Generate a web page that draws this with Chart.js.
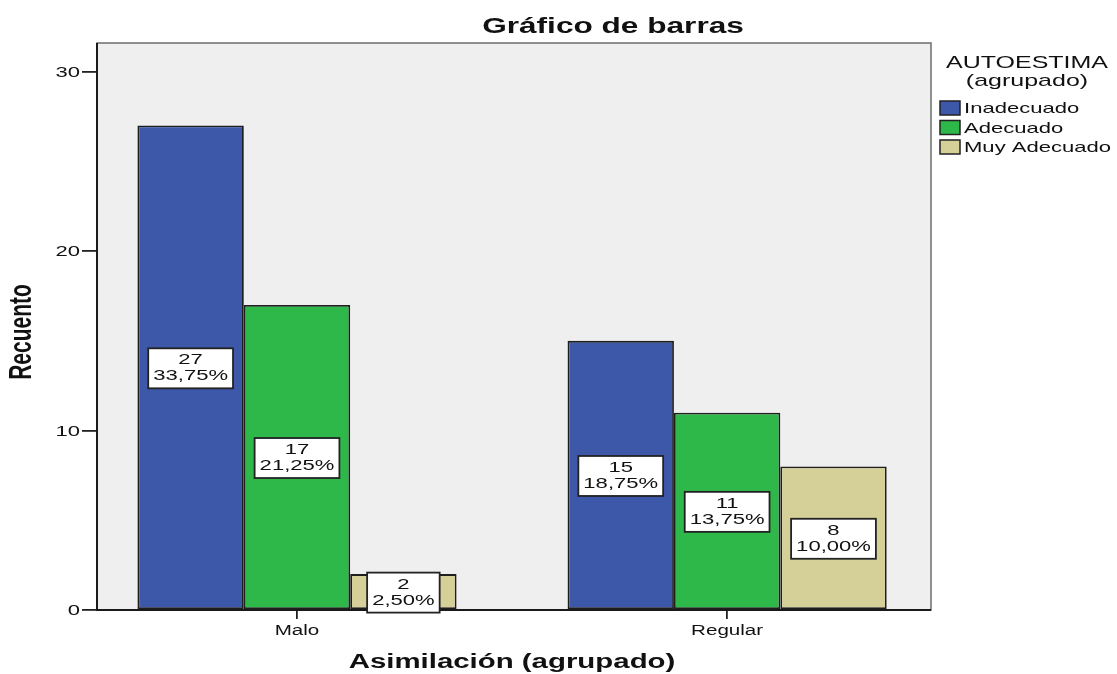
<!DOCTYPE html>
<html>
<head>
<meta charset="utf-8">
<script src="https://cdn.jsdelivr.net/npm/chart.js@4.4.1/dist/chart.umd.min.js"></script>
<style>
  html, body { margin: 0; padding: 0; background: #fff; }
  #wrap { width: 1117px; height: 674px; }
</style>
</head>
<body>
<div id="wrap"><canvas id="barChart" width="1117" height="674"></canvas></div>
<script>
const categories = ['Malo', 'Regular']
const seriesNames = ['Inadecuado', 'Adecuado', 'Muy Adecuado']
const inadecuadoCounts = [27, 15]
const adecuadoCounts = [17, 11]
const muyAdecuadoCounts = [2, 8]
const yTicks = [0, 10, 20, 30]
const seriesColors = ['#3d57a9', '#2fb84a', '#d5cf98']

// the original image is stretched sideways, so all text is drawn wide
const STRETCH = 1.47
const FONT = '"Liberation Sans", Arial, sans-serif'
const INK = '#111'

function wideText(ctx, text, x, y, size, bold = false, align = 'center') {
  ctx.save()
  ctx.translate(x, y)
  ctx.scale(STRETCH, 1)
  ctx.font = `${bold ? 'bold ' : ''}${size}px ${FONT}`
  ctx.textAlign = align
  ctx.textBaseline = 'middle'
  ctx.fillStyle = INK
  ctx.fillText(text, 0, 0)
  ctx.restore()
}

function wideWidth(ctx, text, size, bold = false) {
  ctx.save()
  ctx.font = `${bold ? 'bold ' : ''}${size}px ${FONT}`
  const w = ctx.measureText(text).width * STRETCH
  ctx.restore()
  return w
}

const total = [inadecuadoCounts, adecuadoCounts, muyAdecuadoCounts]
  .flat()
  .reduce((sum, v) => sum + v, 0)

function pctLabel(v) {
  return (v / total * 100).toFixed(2).replace('.', ',') + '%'
}

const spssLook = {
  id: 'spssLook',
  beforeDraw(chart) {
    const {ctx, chartArea: a} = chart
    ctx.save()
    ctx.fillStyle = '#efefef'
    ctx.fillRect(a.left, a.top, a.right - a.left, a.bottom - a.top)
    ctx.restore()
  },
  afterDatasetsDraw(chart) {
    const {ctx, chartArea: a} = chart
    ctx.save()
    ctx.strokeStyle = '#6e6e6e'
    ctx.lineWidth = 1.5
    ctx.strokeRect(a.left, a.top, a.right - a.left, a.bottom - a.top)
    ctx.strokeStyle = '#1a1a1a'
    ctx.lineWidth = 2
    ctx.beginPath()
    ctx.moveTo(a.left, a.top)
    ctx.lineTo(a.left, a.bottom)
    ctx.lineTo(a.right, a.bottom)
    ctx.stroke()
    ctx.restore()

    // value boxes in the middle of each bar
    chart.data.datasets.forEach((dataset, di) => {
      chart.getDatasetMeta(di).data.forEach((bar, i) => {
        const value = dataset.data[i].y
        const lines = [String(value), pctLabel(value)]
        const w = Math.max(...lines.map(t => wideWidth(ctx, t, 15))) + 10
        const h = 40
        const cx = bar.x
        const cy = (bar.y + bar.base) / 2 + 1
        ctx.save()
        ctx.fillStyle = '#fff'
        ctx.fillRect(cx - w / 2, cy - h / 2, w, h)
        ctx.strokeStyle = '#222'
        ctx.lineWidth = 1.8
        ctx.strokeRect(cx - w / 2, cy - h / 2, w, h)
        ctx.restore()
        wideText(ctx, lines[0], cx, cy - 8, 15)
        wideText(ctx, lines[1], cx, cy + 8, 15)
      })
    })
  },
  afterDraw(chart) {
    const {ctx, scales} = chart

    yTicks.forEach(v => wideText(ctx, String(v), 80, scales.y.getPixelForValue(v) + 1, 15, false, 'right'))
    categories.forEach((c, i) => wideText(ctx, c, scales.x.getPixelForValue(i), 631, 14))

    wideText(ctx, 'Gráfico de barras', 613, 27, 21.5, true)
    wideText(ctx, 'Asimilación (agrupado)', 512, 662, 20, true)

    ctx.save()
    ctx.translate(22, 332)
    ctx.scale(STRETCH, 1)
    ctx.rotate(-Math.PI / 2)
    ctx.font = `bold 21px ${FONT}`
    ctx.textAlign = 'center'
    ctx.textBaseline = 'middle'
    ctx.fillStyle = INK
    ctx.fillText('Recuento', 0, 0)
    ctx.restore()

    // legend
    wideText(ctx, 'AUTOESTIMA', 1027, 63, 17)
    wideText(ctx, '(agrupado)', 1027, 81, 17)
    chart.data.datasets.forEach((dataset, di) => {
      const y = 108 + di * 19.5
      ctx.save()
      ctx.fillStyle = dataset.backgroundColor
      ctx.fillRect(940, y - 7, 20, 14)
      ctx.strokeStyle = '#222'
      ctx.lineWidth = 1.5
      ctx.strokeRect(940, y - 7, 20, 14)
      ctx.restore()
      wideText(ctx, dataset.label, 964, y + 1, 15, false, 'left')
    })
  },
}

const seriesCounts = [inadecuadoCounts, adecuadoCounts, muyAdecuadoCounts]

const chart = new Chart(document.getElementById('barChart').getContext('2d'), {
  type: 'bar',
  data: {
    datasets: seriesNames.map((name, si) => ({
      label: name,
      data: seriesCounts[si].map((v, i) => ({x: i, y: v})),
      backgroundColor: seriesColors[si],
      borderColor: '#1e1e1e',
      borderWidth: 1.8,
      borderSkipped: false,
      categoryPercentage: 0.742,
      barPercentage: 1,
    })),
  },
  options: {
    responsive: false,
    animation: false,
    events: [],
    layout: {
      padding: {top: 43, right: 186, left: 0, bottom: 0},
    },
    scales: {
      x: {
        type: 'linear',
        min: -0.465,
        max: 1.474,
        bounds: 'data',
        offset: false,
        afterBuildTicks: scale => {
          scale.ticks = categories.map((c, i) => ({value: i}))
        },
        afterFit: scale => {
          scale.height = 64
        },
        ticks: {display: false},
        border: {display: false},
        grid: {
          offset: false,
          drawOnChartArea: false,
          drawTicks: true,
          tickLength: 9,
          color: '#222',
          lineWidth: 1.8,
        },
      },
      y: {
        min: 0,
        max: 31.6,
        afterBuildTicks: scale => {
          scale.ticks = yTicks.map(v => ({value: v}))
        },
        afterFit: scale => {
          scale.width = 97
        },
        ticks: {display: false},
        border: {display: false},
        grid: {
          drawOnChartArea: false,
          drawTicks: true,
          tickLength: 15,
          color: '#222',
          lineWidth: 1.8,
        },
      },
    },
    plugins: {
      legend: {display: false},
      title: {display: false},
      tooltip: {enabled: false},
    },
  },
  plugins: [spssLook],
})
</script>
</body>
</html>
